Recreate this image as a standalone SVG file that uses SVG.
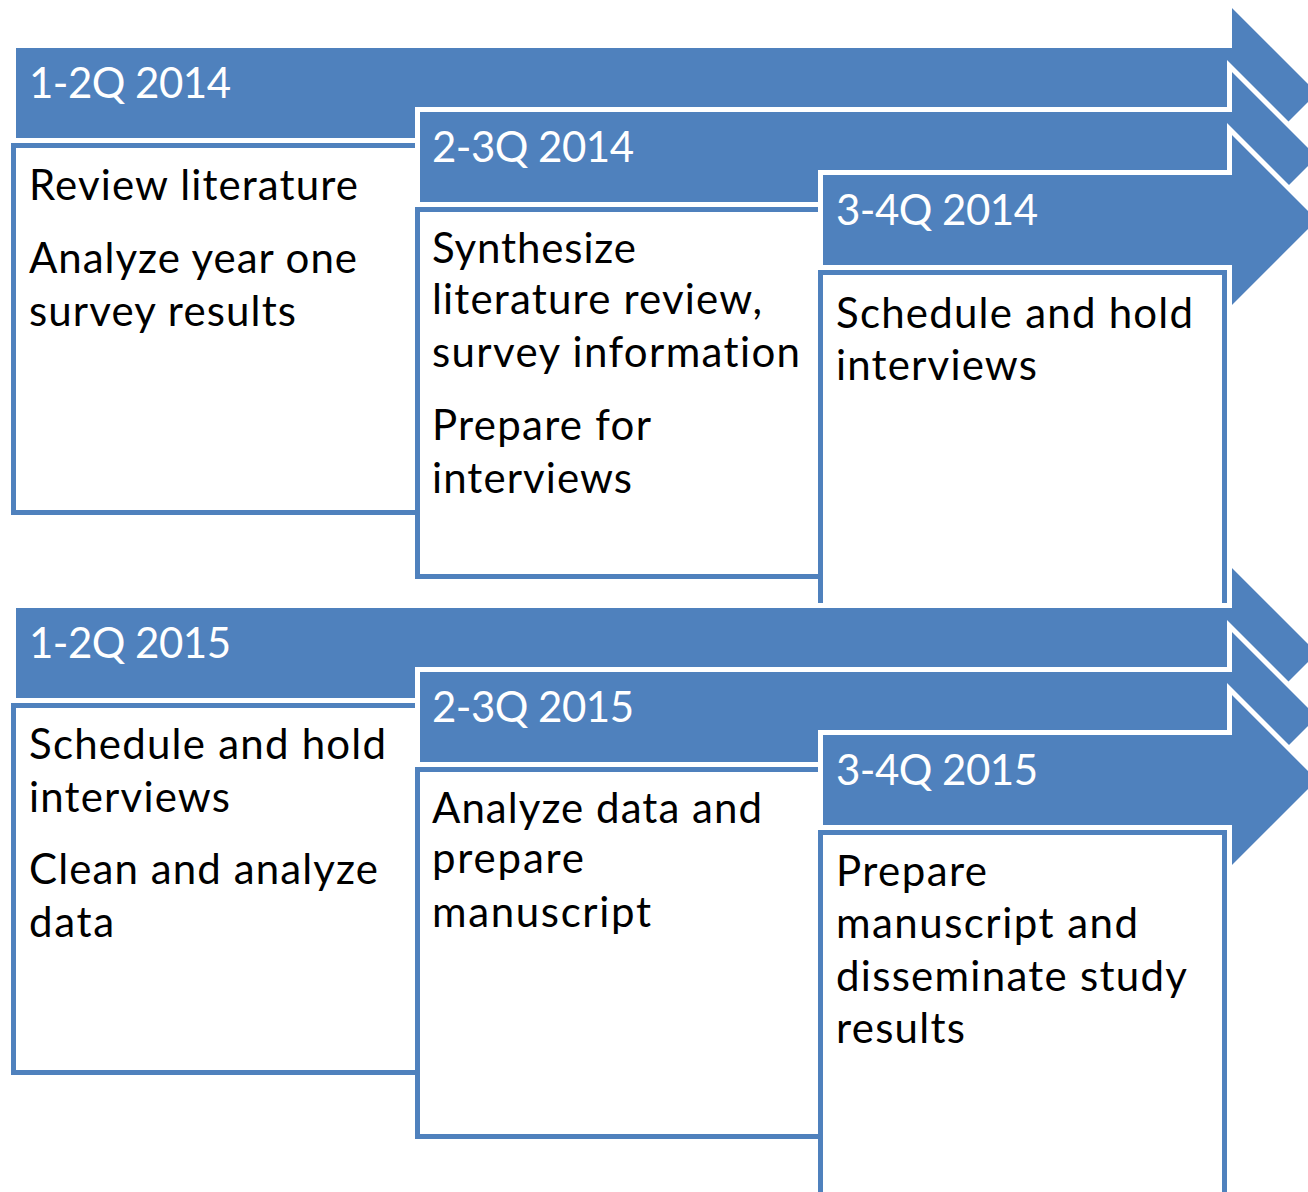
<svg xmlns="http://www.w3.org/2000/svg" width="1308" height="1192" viewBox="0 0 1308 1192">
<style>
.arr{fill:#4F81BD;stroke:#FFFFFF;stroke-width:5;stroke-linejoin:miter}
.box{fill:#FFFFFF;stroke:#4F81BD;stroke-width:5}
.hd{font-family:Lato,"Open Sans","Liberation Sans",sans-serif;font-size:42px;fill:#FFFFFF;font-variant-ligatures:none}
.tx{font-family:Lato,"Open Sans","Liberation Sans",sans-serif;font-size:42px;fill:#000000;font-variant-ligatures:none}
</style>
<rect width="1308" height="1192" fill="#FFFFFF"/>
<g id="step-1-2Q-2014">
<polygon class="arr" points="13.5,45.5 1229.5,45.5 1229.5,2 1320.5,93 1229.5,184 1229.5,140.5 13.5,140.5"/>
<text class="hd" x="29" y="98" textLength="202">1-2Q 2014</text>
<rect class="box" x="13.5" y="145.5" width="404" height="367"/>
<text class="tx" x="29" y="200" textLength="329">Review literature</text>
<text class="tx" x="29" y="273" textLength="328">Analyze year one</text>
<text class="tx" x="29" y="326" textLength="267">survey results</text>
</g>
<g id="step-2-3Q-2014">
<polygon class="arr" points="417.5,109.5 1229.5,109.5 1229.5,66 1320.5,157 1229.5,248 1229.5,204.5 417.5,204.5"/>
<text class="hd" x="432" y="162" textLength="202">2-3Q 2014</text>
<rect class="box" x="417.5" y="209.5" width="404" height="367"/>
<text class="tx" x="432" y="263" textLength="204">Synthesize</text>
<text class="tx" x="432" y="314" textLength="330">literature review,</text>
<text class="tx" x="432" y="367" textLength="368">survey information</text>
<text class="tx" x="432" y="440" textLength="219">Prepare for</text>
<text class="tx" x="432" y="493" textLength="200">interviews</text>
</g>
<g id="step-3-4Q-2014">
<polygon class="arr" points="820.5,172.5 1229.5,172.5 1229.5,129 1320.5,220 1229.5,311 1229.5,267.5 820.5,267.5"/>
<text class="hd" x="836" y="225" textLength="202">3-4Q 2014</text>
<rect class="box" x="820.5" y="272.5" width="404" height="367"/>
<text class="tx" x="836" y="328" textLength="357">Schedule and hold</text>
<text class="tx" x="836" y="380" textLength="201">interviews</text>
</g>
<g id="step-1-2Q-2015">
<polygon class="arr" points="13.5,605.5 1229.5,605.5 1229.5,562 1320.5,653 1229.5,744 1229.5,700.5 13.5,700.5"/>
<text class="hd" x="29" y="658" textLength="202">1-2Q 2015</text>
<rect class="box" x="13.5" y="705.5" width="404" height="367"/>
<text class="tx" x="29" y="759" textLength="357">Schedule and hold</text>
<text class="tx" x="29" y="812" textLength="201">interviews</text>
<text class="tx" x="29" y="884" textLength="349">Clean and analyze</text>
<text class="tx" x="29" y="937" textLength="85">data</text>
</g>
<g id="step-2-3Q-2015">
<polygon class="arr" points="417.5,669.5 1229.5,669.5 1229.5,626 1320.5,717 1229.5,808 1229.5,764.5 417.5,764.5"/>
<text class="hd" x="432" y="722" textLength="202">2-3Q 2015</text>
<rect class="box" x="417.5" y="769.5" width="404" height="367"/>
<text class="tx" x="432" y="823" textLength="330">Analyze data and</text>
<text class="tx" x="432" y="873" textLength="152">prepare</text>
<text class="tx" x="432" y="927" textLength="219">manuscript</text>
</g>
<g id="step-3-4Q-2015">
<polygon class="arr" points="820.5,732.5 1229.5,732.5 1229.5,689 1320.5,780 1229.5,871 1229.5,827.5 820.5,827.5"/>
<text class="hd" x="836" y="785" textLength="202">3-4Q 2015</text>
<rect class="box" x="820.5" y="832.5" width="404" height="367"/>
<text class="tx" x="836" y="886" textLength="151">Prepare</text>
<text class="tx" x="836" y="938" textLength="302">manuscript and</text>
<text class="tx" x="836" y="991" textLength="351">disseminate study</text>
<text class="tx" x="836" y="1043" textLength="129">results</text>
</g>
<g id="connectors"></g>
</svg>
